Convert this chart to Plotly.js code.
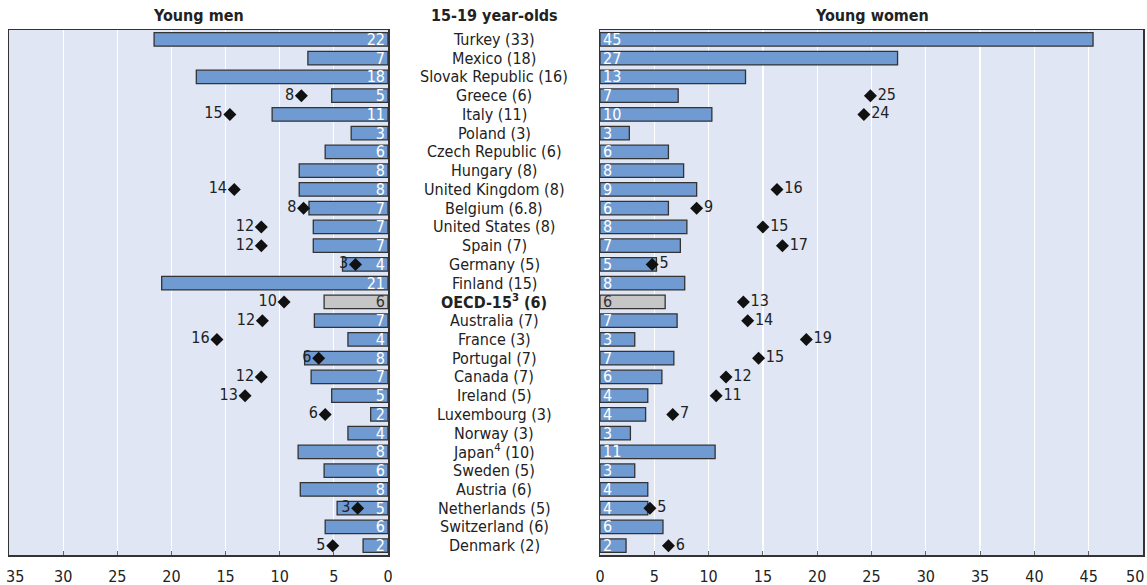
<!DOCTYPE html>
<html>
<head>
<meta charset="utf-8">
<script src="https://cdn.plot.ly/plotly-3.0.1.min.js"></script>
<style>
html,body{margin:0;padding:0;background:#fff;}
#chart{width:1147px;height:585px;}
</style>
</head>
<body>
<div id="chart"></div>
<script>
const countries = ["Turkey (33)","Mexico (18)","Slovak Republic (16)","Greece (6)","Italy (11)","Poland (3)","Czech Republic (6)","Hungary (8)","United Kingdom (8)","Belgium (6.8)","United States (8)","Spain (7)","Germany (5)","Finland (15)","<b>OECD-15<sup>3</sup> (6)</b>","Australia (7)","France (3)","Portugal (7)","Canada (7)","Ireland (5)","Luxembourg (3)","Norway (3)","Japan<sup>4</sup> (10)","Sweden (5)","Austria (6)","Netherlands (5)","Switzerland (6)","Denmark (2)"];

const menBars = [21.6,7.4,17.7,5.2,10.7,3.4,5.8,8.2,8.2,7.3,6.9,6.9,4.2,20.9,5.9,6.8,3.7,7.7,7.1,5.2,1.6,3.7,8.3,5.9,8.1,4.7,5.8,2.3];
const menMarkers = [null,null,null,8.0,14.6,null,null,null,14.2,7.8,11.7,11.7,3.0,null,9.6,11.6,15.8,6.4,11.7,13.2,5.8,null,null,null,null,2.8,null,5.1];

const womenBars = [45.4,27.4,13.4,7.2,10.3,2.7,6.3,7.7,8.9,6.3,8.0,7.4,5.2,7.8,6.0,7.1,3.2,6.8,5.7,4.4,4.2,2.8,10.6,3.2,4.4,4.4,5.8,2.4];
const womenMarkers = [null,null,null,24.9,24.3,null,null,null,16.3,8.9,15.0,16.8,4.8,null,13.2,13.6,19.0,14.6,11.6,10.7,6.7,null,null,null,null,4.6,null,6.3];

const oecdLabel = "<b>OECD-15<sup>3</sup> (6)</b>";
const titleMen = "Young men";
const titleMid = "15-19 year-olds";
const titleWomen = "Young women";
const menTicks = [0,5,10,15,20,25,30,35];
const womenTicks = [0,5,10,15,20,25,30,35,40,45,50];

const FONT = '"Liberation Sans Narrow", "Arial Narrow", "DejaVu Sans Condensed", "Roboto Condensed", sans-serif';
const BLUE = '#6f9bd2';
const GREY = '#c6c6c6';

const barColors = countries.map(c => c === oecdLabel ? GREY : BLUE);
const barTextColors = countries.map(c => c === oecdLabel ? '#333' : '#ffffff');
const rnd = arr => arr.map(v => v === null ? '' : String(Math.round(v)));

const traces = [
  {
    type: 'bar', orientation: 'h', x: menBars, y: countries,
    xaxis: 'x', yaxis: 'y', width: 0.72,
    marker: {color: barColors, line: {color: '#333', width: 1.3}},
    text: rnd(menBars), textposition: 'inside', insidetextanchor: 'start', textangle: 0,
    textfont: {family: FONT, size: 16, color: barTextColors},
    constraintext: 'none', cliponaxis: false, hoverinfo: 'skip'
  },
  {
    type: 'bar', orientation: 'h', x: womenBars, y: countries,
    xaxis: 'x2', yaxis: 'y2', width: 0.72,
    marker: {color: barColors, line: {color: '#333', width: 1.3}},
    text: rnd(womenBars), textposition: 'inside', insidetextanchor: 'start', textangle: 0,
    textfont: {family: FONT, size: 16, color: barTextColors},
    constraintext: 'none', cliponaxis: false, hoverinfo: 'skip'
  },
  {
    type: 'scatter', mode: 'markers+text', x: menMarkers, y: countries,
    xaxis: 'x', yaxis: 'y',
    marker: {symbol: 'diamond', size: 10, color: '#111'},
    text: rnd(menMarkers), textposition: 'middle left',
    textfont: {family: FONT, size: 16, color: '#222'},
    cliponaxis: false, hoverinfo: 'skip'
  },
  {
    type: 'scatter', mode: 'markers+text', x: womenMarkers, y: countries,
    xaxis: 'x2', yaxis: 'y2',
    marker: {symbol: 'diamond', size: 10, color: '#111'},
    text: rnd(womenMarkers), textposition: 'middle right',
    textfont: {family: FONT, size: 16, color: '#222'},
    cliponaxis: false, hoverinfo: 'skip'
  }
];

const tickFont = {family: FONT, size: 16, color: '#222'};

const axisCommon = {
  showline: true, linecolor: '#333', linewidth: 1.5, mirror: true,
  showgrid: true, gridcolor: '#ffffff', gridwidth: 1.2, zeroline: false,
  ticks: 'inside', ticklen: 4, tickcolor: '#666', tickwidth: 1,
  tickfont: tickFont, tickmode: 'array',
  ticklabelstandoff: 6, fixedrange: true
};

const yCommon = {
  type: 'category', categoryorder: 'array', categoryarray: countries,
  autorange: false, range: [countries.length - 0.5, -0.5],
  showticklabels: false, ticks: '',
  showline: true, linecolor: '#333', linewidth: 1.5, mirror: true,
  showgrid: false, zeroline: false, fixedrange: true
};

// End tick labels that would run off the page are drawn as annotations, nudged inward
const menEnd = menTicks[menTicks.length - 1];
const womenEnd = womenTicks[womenTicks.length - 1];
const menTickText = menTicks.map(v => v === menEnd ? '' : String(v));
const womenTickText = womenTicks.map(v => v === womenEnd ? '' : String(v));

const midX = (494 - 9) / 1134;

const annotations = countries.map(c => ({
  xref: 'paper', yref: 'y', x: midX, y: c, text: c, showarrow: false,
  xanchor: 'center', yanchor: 'middle',
  font: {family: FONT, size: 16, color: '#222'}
}));
annotations.push(
  {xref: 'x', yref: 'paper', x: 17.5, y: 1, yshift: 15, text: '<b>' + titleMen + '</b>', showarrow: false,
   xanchor: 'center', yanchor: 'middle', font: {family: FONT, size: 16, color: '#222'}},
  {xref: 'paper', yref: 'paper', x: midX, y: 1, yshift: 15, text: '<b>' + titleMid + '</b>', showarrow: false,
   xanchor: 'center', yanchor: 'middle', font: {family: FONT, size: 16, color: '#222'}},
  {xref: 'x2', yref: 'paper', x: 25, y: 1, yshift: 15, text: '<b>' + titleWomen + '</b>', showarrow: false,
   xanchor: 'center', yanchor: 'middle', font: {family: FONT, size: 16, color: '#222'}},
  {xref: 'x', yref: 'paper', x: menEnd, y: 0, yshift: -21, xshift: 6, text: String(menEnd), showarrow: false,
   xanchor: 'center', yanchor: 'middle', font: tickFont},
  {xref: 'x2', yref: 'paper', x: womenEnd, y: 0, yshift: -21, xshift: -8, text: String(womenEnd), showarrow: false,
   xanchor: 'center', yanchor: 'middle', font: tickFont}
);

const layout = {
  width: 1147, height: 585,
  margin: {l: 9, r: 4, t: 30, b: 30, pad: 0},
  paper_bgcolor: '#ffffff', plot_bgcolor: '#e0e6f3',
  showlegend: false, barmode: 'overlay',
  font: {family: FONT, color: '#222'},
  xaxis: Object.assign({}, axisCommon, {domain: [0, 379/1134], range: [35, 0], tickvals: menTicks, ticktext: menTickText, anchor: 'y'}),
  xaxis2: Object.assign({}, axisCommon, {domain: [591/1134, 1], range: [0, 50], tickvals: womenTicks, ticktext: womenTickText, anchor: 'y2'}),
  yaxis: Object.assign({}, yCommon, {anchor: 'x'}),
  yaxis2: Object.assign({}, yCommon, {anchor: 'x2'}),
  annotations: annotations
};

Plotly.newPlot('chart', traces, layout, {staticPlot: true, displayModeBar: false});
</script>
</body>
</html>
